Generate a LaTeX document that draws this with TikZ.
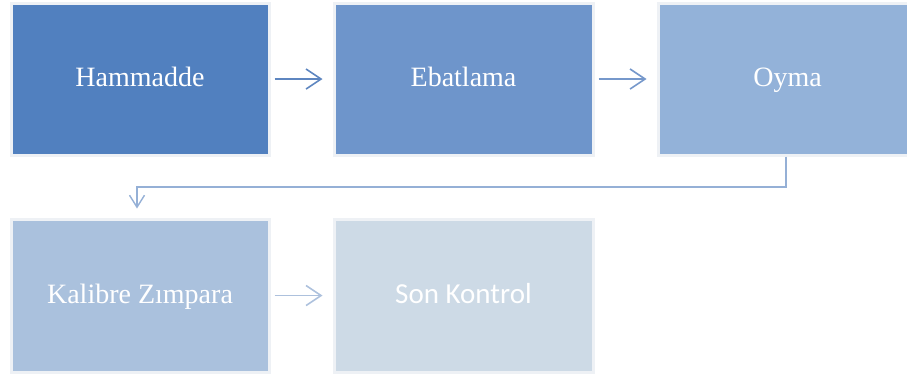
\documentclass[tikz,border=0pt]{standalone}
\usepackage{fontspec}
\setmainfont{Liberation Serif}
\newfontfamily\labelsans{Carlito}
\usetikzlibrary{arrows.meta}

\definecolor{stepA}{HTML}{5180BF}
\definecolor{stepB}{HTML}{6E95CB}
\definecolor{stepC}{HTML}{93B2D9}
\definecolor{stepD}{HTML}{AAC1DD}
\definecolor{stepE}{HTML}{CDDAE6}
\definecolor{linkA}{HTML}{5E86C0}
\definecolor{linkB}{HTML}{7698CB}
\definecolor{linkC}{HTML}{95B0D6}
\definecolor{linkD}{HTML}{ADC1DD}
\definecolor{halo}{HTML}{EEF1F5}

\tikzset{
  stepbox/.style={rectangle, minimum width=258pt, minimum height=152pt,
    inner sep=0pt, draw=halo, line width=3pt, text=white,
    text height=19pt, text depth=4pt,
    font=\fontsize{28}{32}\selectfont},
  flow/.style={line width=1.6pt,
    -{Straight Barb[length=15pt,width=20pt,line width=1.6pt]}}
}

\begin{document}
\begin{tikzpicture}[x=1pt,y=-1pt]
  \useasboundingbox (0,0) rectangle (907,376);
  \clip (0,0) rectangle (907,376);

  % process steps
  \node[stepbox, fill=stepA] (s1) at (140,79)    {Hammadde};
  \node[stepbox, fill=stepB, minimum width=259pt] (s2) at (463.5,79)  {Ebatlama};
  \node[stepbox, fill=stepC, minimum width=259pt] (s3) at (787.5,79)  {Oyma};
  \node[stepbox, fill=stepD, minimum height=153pt] (s4) at (140,295.5) {Kalibre Zımpara};
  \node[stepbox, fill=stepE, minimum width=259pt, minimum height=153pt,
        font=\labelsans\fontsize{29}{33}\selectfont] (s5) at (463.5,295.5) {Son Kontrol};

  % connectors
  \draw[flow, draw=linkA, shorten <=4pt, shorten >=10pt] (s1.east) -- (s2.west);
  \draw[flow, draw=linkB, shorten <=4pt, shorten >=10pt] (s2.east) -- (s3.west);
  \coordinate (turnA) at (786,187);
  \coordinate (turnB) at (137,187);
  \draw[draw=linkC, line width=1.2pt, shorten >=9pt,
        -{Straight Barb[length=12pt,width=15pt,line width=1.4pt]}]
    (s3.south -| turnA) -- (turnA) -- (turnB) -- (turnB |- s4.north);
  \draw[flow, draw=linkD, shorten <=4pt, shorten >=10pt] (s4.east) -- (s5.west);
\end{tikzpicture}
\end{document}
